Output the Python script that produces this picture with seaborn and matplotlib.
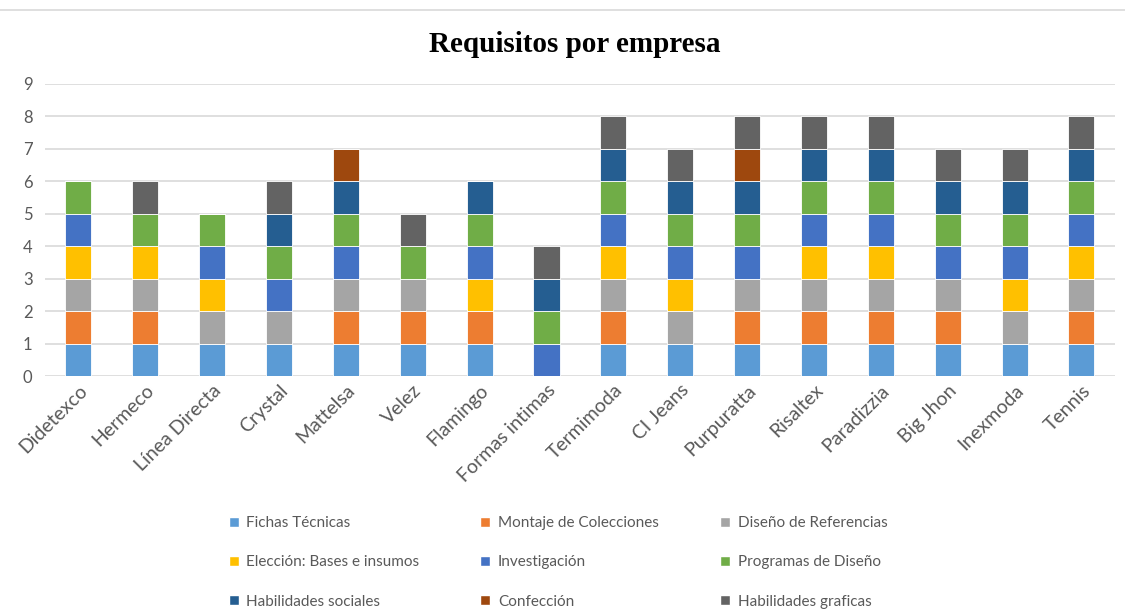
import matplotlib
matplotlib.use("Agg")
import matplotlib.pyplot as plt
from matplotlib.patches import Patch
from matplotlib.lines import Line2D
import numpy as np
import pandas as pd
import seaborn as sns

# companies on the x axis
empresas = ["Didetexco", "Hermeco", "Línea Directa", "Crystal", "Mattelsa", "Velez",
            "Flamingo", "Formas intimas", "Termimoda", "CI Jeans", "Purpuratta",
            "Risaltex", "Paradizzia", "Big Jhon", "Inexmoda", "Tennis"]

# one list per requirement (1 = the company asks for it)
fichas_tecnicas      = [1, 1, 1, 1, 1, 1, 1, 0, 1, 1, 1, 1, 1, 1, 1, 1]
montaje_colecciones  = [1, 1, 0, 0, 1, 1, 1, 0, 1, 0, 1, 1, 1, 1, 0, 1]
diseno_referencias   = [1, 1, 1, 1, 1, 1, 0, 0, 1, 1, 1, 1, 1, 1, 1, 1]
eleccion_bases       = [1, 1, 1, 0, 0, 0, 1, 0, 1, 1, 0, 1, 1, 0, 1, 1]
investigacion        = [1, 0, 1, 1, 1, 0, 1, 1, 1, 1, 1, 1, 1, 1, 1, 1]
programas_diseno     = [1, 1, 1, 1, 1, 1, 1, 1, 1, 1, 1, 1, 1, 1, 1, 1]
habilidades_sociales = [0, 0, 0, 1, 1, 0, 1, 1, 1, 1, 1, 1, 1, 1, 1, 1]
confeccion           = [0, 0, 0, 0, 1, 0, 0, 0, 0, 0, 1, 0, 0, 0, 0, 0]
habilidades_graficas = [0, 1, 0, 1, 0, 1, 0, 1, 1, 1, 1, 1, 1, 1, 1, 1]

series = {
    "Fichas Técnicas": fichas_tecnicas,
    "Montaje de Colecciones": montaje_colecciones,
    "Diseño de Referencias": diseno_referencias,
    "Elección: Bases e insumos": eleccion_bases,
    "Investigación": investigacion,
    "Programas de Diseño": programas_diseno,
    "Habilidades sociales": habilidades_sociales,
    "Confección": confeccion,
    "Habilidades graficas": habilidades_graficas,
}
colores = ["#5B9BD5", "#ED7D31", "#A5A5A5", "#FFC000", "#4472C4",
           "#70AD47", "#255E91", "#9E480E", "#636363"]

sns.set_style("white")
plt.rcParams["font.family"] = ["Lato", "DejaVu Sans"]
txt = "#595959"

fig = plt.figure(figsize=(11.25, 6.14), dpi=100)
ax = fig.add_axes([0.04, 0.3876, 0.951, 0.4756])

bottom = np.zeros(len(empresas))
for (nombre, vals), c in zip(series.items(), colores):
    df = pd.DataFrame({"empresa": empresas, "valor": vals})
    sns.barplot(data=df, x="empresa", y="valor", order=empresas, color=c,
                width=0.39, bottom=bottom, ax=ax, saturation=1,
                edgecolor="white", linewidth=0.6, zorder=3)
    bottom = bottom + np.array(vals)

ax.set_ylim(0, 9)
ax.set_xlim(-0.5, len(empresas) - 0.5)
ax.set_yticks(range(0, 10))
ax.yaxis.grid(True, color="#D9D9D9", linewidth=1.2, zorder=0)
ax.set_axisbelow(True)
for s in ax.spines.values():
    s.set_visible(False)
ax.set_xlabel("")
ax.set_ylabel("")
ax.tick_params(axis="y", length=0, labelsize=12, labelcolor=txt, pad=9)
ax.tick_params(axis="x", length=0, labelsize=14, labelcolor=txt, pad=4)
plt.setp(ax.get_xticklabels(), rotation=45, ha="right", rotation_mode="anchor")

fig.text(0.511, 0.928, "Requisitos por empresa", ha="center", va="center",
         fontsize=21, fontweight="bold", family="Liberation Serif", color="black")

# top border line of the chart area
fig.add_artist(Line2D([0.0, 1.0], [0.983, 0.983], transform=fig.transFigure,
                      color="#D9D9D9", linewidth=1.2))

nombres = list(series.keys())
handles = [Patch(facecolor=c, label=n) for n, c in zip(nombres, colores)]
orden = [0, 3, 6, 1, 4, 7, 2, 5, 8]
fig.legend([handles[i] for i in orden], [nombres[i] for i in orden],
           loc="center", bbox_to_anchor=(0.496, 0.084), ncol=3, frameon=False,
           fontsize=11, labelcolor=txt, handlelength=0.65, handleheight=0.65,
           handletextpad=0.5, columnspacing=4.0, labelspacing=1.65)

fig.savefig("out.png", dpi=100)
